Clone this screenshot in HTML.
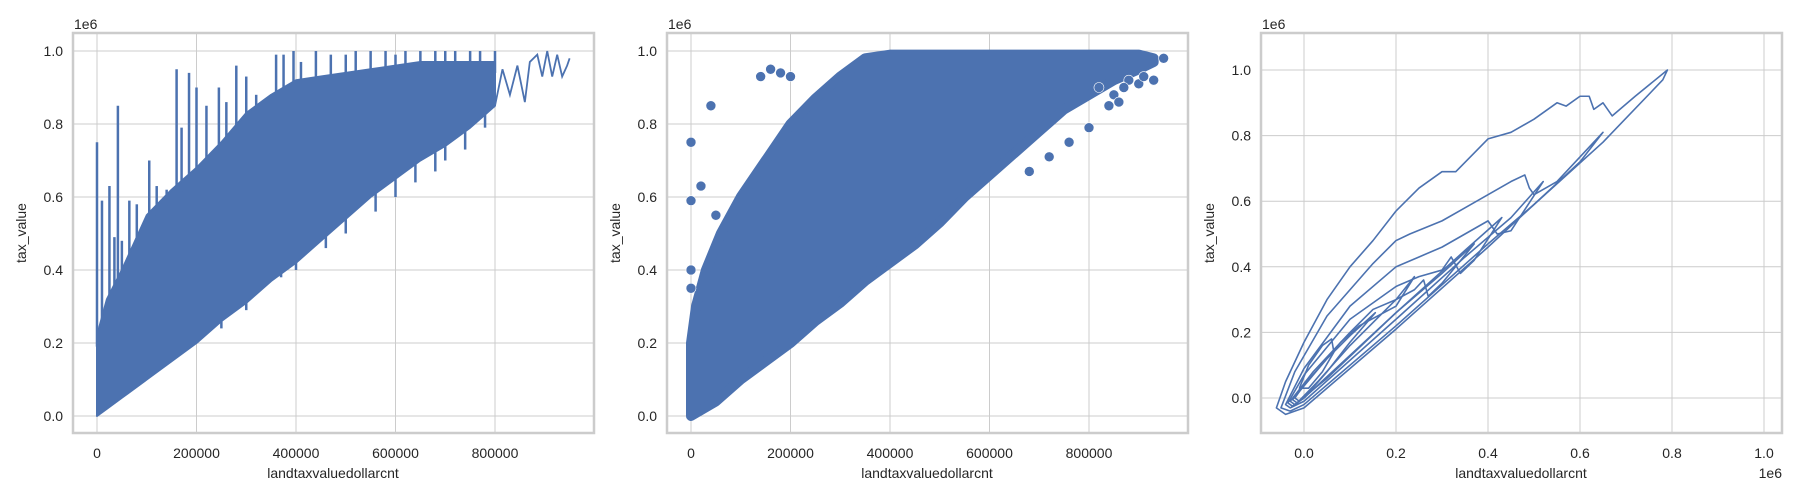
<!DOCTYPE html>
<html><head><meta charset="utf-8"><style>
html,body{margin:0;padding:0;background:#fff;}
svg{display:block;font-family:"Liberation Sans","DejaVu Sans",sans-serif;}
</style></head><body>
<svg id="fig" width="1800" height="500" viewBox="0 0 1800 500" xmlns="http://www.w3.org/2000/svg"></svg>
<script>
// ---------- Panel 1 (line plot) data ----------
const p1X = [0,20,50,100,150,200,250,300,350,400,450,500,550,600,650,700,750,800];
const p1Upper = [0.22,0.32,0.40,0.55,0.62,0.68,0.75,0.83,0.88,0.92,0.93,0.94,0.95,0.96,0.97,0.97,0.97,0.97];
const p1Lower = [0.0,0.02,0.05,0.10,0.15,0.20,0.26,0.31,0.37,0.42,0.48,0.54,0.60,0.65,0.70,0.74,0.79,0.85];
const p1TailX = [800,815,830,845,860,870,885,895,905,915,925,935,945,950];
const p1TailY = [0.85,0.95,0.88,0.96,0.86,0.97,0.99,0.93,1.0,0.93,0.99,0.93,0.96,0.98];
const p1SpikeX = [0,10,25,35,42,50,65,80,105,120,140,160,170,185,200,220,245,260,280,300,320,340,360,375,395,410,440,470,500,520,550,580,600,620,650,680,700,720,750,770,800];
const p1SpikeY = [0.75,0.59,0.63,0.49,0.85,0.48,0.59,0.58,0.70,0.63,0.62,0.95,0.79,0.94,0.90,0.85,0.90,0.86,0.96,0.93,0.88,0.86,0.99,0.99,1.0,0.97,1.0,0.99,0.99,1.0,1.0,1.0,0.99,1.0,1.0,1.0,1.0,1.0,1.0,1.0,1.0];
const p1DipX = [250,300,370,400,460,500,560,600,640,680,700,740,780];
const p1DipY = [0.24,0.29,0.38,0.40,0.46,0.50,0.56,0.60,0.64,0.67,0.70,0.73,0.79];
// ---------- Panel 2 (scatter) data ----------
const p2UpX = [0,10,30,60,100,150,200,250,300,350,400,450,900,930];
const p2UpY = [0.20,0.30,0.40,0.50,0.60,0.70,0.80,0.87,0.93,0.98,0.99,0.99,0.99,0.98];
const p2LoX = [930,900,850,800,750,700,650,600,550,500,450,400,350,300,250,200,150,100,50,0];
const p2LoY = [0.97,0.95,0.92,0.88,0.84,0.78,0.72,0.66,0.60,0.53,0.47,0.42,0.37,0.31,0.26,0.20,0.15,0.10,0.04,0.0];
const p2OutX = [0,0,0,0,20,40,50,140,160,180,200,820,850,880,900,910,930,950,870,860,840,800,760,720,680];
const p2OutY = [0.75,0.59,0.40,0.35,0.63,0.85,0.55,0.93,0.95,0.94,0.93,0.90,0.88,0.92,0.91,0.93,0.92,0.98,0.90,0.86,0.85,0.79,0.75,0.71,0.67];
// ---------- Panel 3 (KDE contours) data: each loop as [x,y] in 1e6 ----------
const kde1 = [[-0.06,-0.03],[-0.04,0.05],[0.0,0.17],[0.05,0.30],[0.1,0.40],[0.15,0.48],[0.2,0.57],[0.25,0.64],[0.3,0.69],[0.33,0.69],[0.4,0.79],[0.45,0.81],[0.5,0.85],[0.55,0.90],[0.57,0.89],[0.6,0.92],[0.62,0.92],[0.63,0.88],[0.65,0.90],[0.67,0.86],[0.72,0.92],[0.79,1.0],[0.78,0.97],[0.65,0.78],[0.5,0.59],[0.4,0.46],[0.2,0.21],[0.1,0.09],[0.0,-0.03],[-0.04,-0.05]];
const kde2 = [[-0.05,-0.03],[-0.02,0.08],[0.05,0.25],[0.1,0.33],[0.15,0.41],[0.2,0.48],[0.23,0.50],[0.3,0.54],[0.35,0.58],[0.4,0.62],[0.45,0.66],[0.48,0.68],[0.49,0.64],[0.5,0.62],[0.55,0.66],[0.65,0.81],[0.6,0.72],[0.5,0.59],[0.4,0.47],[0.2,0.22],[0.0,-0.02],[-0.03,-0.04]];
const kde3 = [[-0.04,-0.02],[0.0,0.09],[0.1,0.28],[0.2,0.40],[0.25,0.43],[0.3,0.46],[0.35,0.50],[0.4,0.54],[0.42,0.50],[0.45,0.51],[0.52,0.66],[0.45,0.55],[0.35,0.43],[0.2,0.24],[0.0,-0.01],[-0.03,-0.03]];
const kde4 = [[-0.035,-0.015],[0.0,0.07],[0.1,0.24],[0.2,0.34],[0.25,0.37],[0.3,0.39],[0.32,0.43],[0.34,0.38],[0.37,0.42],[0.43,0.55],[0.35,0.45],[0.2,0.26],[0.0,0.0],[-0.025,-0.025]];
const kde5 = [[-0.03,-0.01],[0.02,0.08],[0.1,0.20],[0.15,0.27],[0.2,0.30],[0.24,0.33],[0.26,0.36],[0.27,0.31],[0.3,0.35],[0.37,0.47],[0.3,0.38],[0.2,0.26],[0.05,0.06],[-0.02,-0.02]];
const kde6 = [[-0.025,-0.005],[0.02,0.07],[0.08,0.17],[0.12,0.22],[0.2,0.28],[0.24,0.37],[0.2,0.30],[0.1,0.16],[0.03,0.05],[-0.015,-0.015]];
const kde7 = [[-0.02,0.0],[0.0,0.04],[0.05,0.12],[0.1,0.19],[0.155,0.26],[0.1,0.17],[0.05,0.08],[0.0,0.0],[-0.01,-0.01]];
const kde8 = [[-0.01,0.03],[0.01,0.10],[0.04,0.16],[0.06,0.18],[0.065,0.14],[0.04,0.08],[0.01,0.03]];
const kdeLevels = [kde1,kde2,kde3,kde4,kde5,kde6,kde7,kde8];
const tickP1X = [0,200000,400000,600000,800000];
const tickP1XLabels = ["0","200000","400000","600000","800000"];
const tickY = [0,0.2,0.4,0.6,0.8,1.0];
const tickYLabels = ["0.0","0.2","0.4","0.6","0.8","1.0"];
const tickP3X = [0,0.2,0.4,0.6,0.8,1.0];
const tickP3XLabels = ["0.0","0.2","0.4","0.6","0.8","1.0"];

const NS="http://www.w3.org/2000/svg";
const svg=document.getElementById('fig');
const BLUE="#4c72b0", GRID="#cccccc", TXT="#262626";
function mk(tag,attrs,parent){const e=document.createElementNS(NS,tag);for(const k in attrs)e.setAttribute(k,attrs[k]);(parent||svg).appendChild(e);return e;}

function makeAxes(name,left,x0px,xPer,y0px,yPer,xticks,xlabels){
  const g=mk('g',{});
  
  
  const top=33,bottom=433,right=left+521;
  const sx=v=>x0px+v*xPer, sy=v=>y0px-v*yPer;
  xticks.forEach((t,i)=>{
    const l=mk('line',{x1:sx(t),x2:sx(t),y1:top,y2:bottom,stroke:GRID,'stroke-width':1},g);
    
    
    const tx=mk('text',{x:sx(t),y:458,'text-anchor':'middle','font-size':14,fill:TXT},g);
    
    
    tx.textContent=xlabels[i];
  });
  tickY.forEach((t,i)=>{
    const l=mk('line',{x1:left,x2:right,y1:sy(t),y2:sy(t),stroke:GRID,'stroke-width':1},g);
    
    
    const tx=mk('text',{x:left-10,y:sy(t)+5,'text-anchor':'end','font-size':14,fill:TXT},g);
    
    
    tx.textContent=tickYLabels[i];
  });
  const off=mk('text',{x:left+1,y:29,'font-size':14,fill:TXT},g);
  
  
  off.textContent='1e6';
  const xt=mk('text',{x:left+260,y:478,'text-anchor':'middle','font-size':14,fill:TXT},g);
  
  
  xt.textContent='landtaxvaluedollarcnt';
  const yt=mk('text',{x:0,y:0,'text-anchor':'middle','font-size':14,fill:TXT,transform:`translate(${left-47},233) rotate(-90)`},g);
  
  
  yt.textContent='tax_value';
  const plot=mk('g',{},g);
  
  
  return {g,plot,sx,sy,left,right,top,bottom};
}
function frame(ax){
  const r=mk('rect',{x:ax.left,y:ax.top,width:521,height:400,fill:'none',stroke:GRID,'stroke-width':2.5},ax.g);
  
  
}
function interp(xs,ys,x){
  let j=0;while(j<xs.length-2&&xs[j+1]<x)j++;
  const t=Math.max(0,Math.min(1,(x-xs[j])/(xs[j+1]-xs[j])));
  return ys[j]+t*(ys[j+1]-ys[j]);
}

// Panel 1
const a1=makeAxes('line-panel',73,97,99.5/200000,416,365,tickP1X,tickP1XLabels);
(function(){
  const sx=v=>a1.sx(v*1000), sy=v=>a1.sy(v);
  let pts=p1X.map((x,i)=>sx(x)+','+sy(p1Upper[i]));
  for(let i=p1X.length-1;i>=0;i--)pts.push(sx(p1X[i])+','+sy(p1Lower[i]));
  const band=mk('polygon',{points:pts.join(' '),fill:BLUE,stroke:BLUE,'stroke-width':2,'stroke-linejoin':'round'},a1.plot);
  
  
  p1SpikeX.forEach((x,i)=>{
    const base=interp(p1X,p1Upper,x)-0.03;
    const s=mk('line',{x1:sx(x),x2:sx(x),y1:sy(base),y2:sy(p1SpikeY[i]),stroke:BLUE,'stroke-width':2.5},a1.plot);
    
    
  });
  p1DipX.forEach((x,i)=>{
    const base=interp(p1X,p1Lower,x)+0.03;
    const s=mk('line',{x1:sx(x),x2:sx(x),y1:sy(base),y2:sy(p1DipY[i]),stroke:BLUE,'stroke-width':2.5},a1.plot);
    
    
  });
  const tail=mk('polyline',{points:p1TailX.map((x,i)=>sx(x)+','+sy(p1TailY[i])).join(' '),fill:'none',stroke:BLUE,'stroke-width':1.8},a1.plot);
  
  
})();
frame(a1);

// Panel 2
const a2=makeAxes('scatter-panel',667,691,99.5/200000,416,365,tickP1X,tickP1XLabels);
(function(){
  const sx=v=>a2.sx(v*1000), sy=v=>a2.sy(v);
  const pts=p2UpX.map((x,i)=>sx(x)+','+sy(p2UpY[i])).concat(p2LoX.map((x,i)=>sx(x)+','+sy(p2LoY[i])));
  const dense=mk('polygon',{points:pts.join(' '),fill:BLUE,stroke:BLUE,'stroke-width':10,'stroke-linejoin':'round'},a2.plot);
  
  
  p2OutX.forEach((x,i)=>{
    const c=mk('circle',{cx:sx(x),cy:sy(p2OutY[i]),r:5,fill:BLUE,stroke:'#fff','stroke-width':0.6},a2.plot);
    
    
  });
})();
frame(a2);

// Panel 3
const a3=makeAxes('kde-panel',1261,1304,460,398,328,tickP3X,tickP3XLabels);
(function(){
  const xo=mk('text',{x:1782,y:478,'text-anchor':'end','font-size':14,fill:TXT},a3.g);
  
  
  xo.textContent='1e6';
  kdeLevels.forEach(loop=>{
    const p=loop.map(q=>a3.sx(q[0])+','+a3.sy(q[1]));
    const path=mk('polygon',{points:p.join(' '),fill:'none',stroke:BLUE,'stroke-width':1.6,'stroke-linejoin':'round'},a3.plot);
    
    
  });
})();
frame(a3);
</script>
</body></html>
